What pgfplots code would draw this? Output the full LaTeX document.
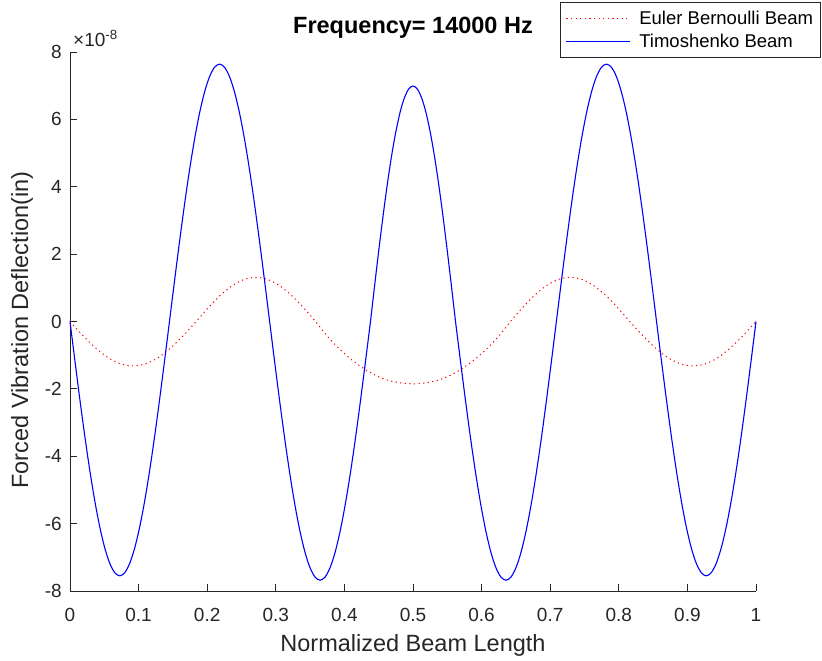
\documentclass[border=0pt]{standalone}
\usepackage{pgfplots}
\pgfplotsset{compat=1.18}
\usepackage{fontspec}
\setmainfont{Liberation Sans}
\definecolor{axgray}{rgb}{0.15,0.15,0.15}
\begin{document}
\begin{tikzpicture}
\useasboundingbox (0,0) rectangle (822pt,661pt);
\begin{axis}[
  at={(70pt,70pt)}, anchor=south west,
  scale only axis, width=686pt, height=539pt,
  xmin=0, xmax=1, ymin=-8, ymax=8,
  axis x line*=bottom, axis y line*=left,
  axis line style={axgray, line width=0.8pt},
  tick style={axgray, line width=0.8pt},
  tick align=inside, major tick length=7pt,
  xtick={0,0.1,...,1}, ytick={-8,-6,...,8},
  xticklabels={0,0.1,0.2,0.3,0.4,0.5,0.6,0.7,0.8,0.9,1},
  /pgf/number format/assume math mode=true,
  ticklabel style={font=\fontsize{19}{22}\selectfont, text=axgray, inner sep=0pt},
  xticklabel style={anchor=base, yshift=-30.5pt},
  yticklabel style={anchor=east, xshift=-8pt},
  xlabel={Normalized Beam Length},
  ylabel={Forced Vibration Deflection(in)},
  label style={font=\fontsize{23.5}{26}\selectfont, text=axgray},
  xlabel style={at={(axis description cs:0.5,-0.113)}, anchor=base},
  ylabel style={at={(axis description cs:-0.07,0.484)}, anchor=center},
  title={\textbf{Frequency= 14000 Hz}},
  title style={at={(axis description cs:0.5,1.0236)}, anchor=base, font=\fontsize{23.5}{26}\selectfont},
  legend style={at={(axis description cs:1.0948,1.093)}, anchor=north east,
    font=\fontsize{18.5}{21}\selectfont, draw=axgray, line width=0.8pt,
    row sep=3pt, inner xsep=5pt, inner ysep=6pt, nodes={inner sep=2.5pt},
    /tikz/every odd column/.append style={column sep=6pt}},
  legend cell align=left,
  legend image code/.code={\draw[#1] (0pt,0pt) -- (64pt,0pt);},
  clip=false,
]
\addplot[red, line width=1pt, dash pattern=on 1.2pt off 3.4pt, smooth] coordinates {
(0,0) (0.0184,-0.408) (0.0368,-0.776) (0.0552,-1.068) (0.0736,-1.255) (0.092,-1.32) (0.1104,-1.255) (0.1288,-1.068) (0.1472,-0.776) (0.1656,-0.408) (0.184,0)
(0.2014,0.405) (0.2188,0.770) (0.2362,1.060) (0.2536,1.246) (0.271,1.31) (0.2884,1.246) (0.3058,1.060) (0.3232,0.770) (0.3406,0.405) (0.358,0)
(0.3722,-0.37) (0.3864,-0.685) (0.4006,-0.962) (0.4148,-1.203) (0.429,-1.406) (0.4432,-1.573) (0.4574,-1.702) (0.4716,-1.785) (0.4858,-1.832) (0.5,-1.85)
(0.5142,-1.832) (0.5284,-1.785) (0.5426,-1.702) (0.5568,-1.573) (0.571,-1.406) (0.5852,-1.203) (0.5994,-0.962) (0.6136,-0.685) (0.6278,-0.37) (0.642,0)
(0.6594,0.405) (0.6768,0.770) (0.6942,1.060) (0.7116,1.246) (0.729,1.31) (0.7464,1.246) (0.7638,1.060) (0.7812,0.770) (0.7986,0.405) (0.816,0)
(0.8344,-0.408) (0.8528,-0.776) (0.8712,-1.068) (0.8896,-1.255) (0.908,-1.32) (0.9264,-1.255) (0.9448,-1.068) (0.9632,-0.776) (0.9816,-0.408) (1,0)
};
\addlegendentry{Euler Bernoulli Beam}
\addplot[blue, line width=1.1pt, smooth] coordinates {
(0,0) (0.00725,-1.181) (0.0145,-2.333) (0.02175,-3.428) (0.029,-4.438) (0.03625,-5.339) (0.0435,-6.108) (0.05075,-6.727) (0.058,-7.181) (0.06525,-7.457) (0.0725,-7.55) (0.07975,-7.457) (0.087,-7.181) (0.09425,-6.727) (0.1015,-6.108) (0.10875,-5.339) (0.116,-4.438) (0.12325,-3.428) (0.1305,-2.333) (0.13775,-1.181) (0.145,0)
(0.1523,1.195) (0.1596,2.361) (0.1669,3.469) (0.1742,4.491) (0.1815,5.402) (0.1888,6.181) (0.1961,6.807) (0.2034,7.266) (0.2107,7.546) (0.218,7.64) (0.2253,7.546) (0.2326,7.266) (0.2399,6.807) (0.2472,6.181) (0.2545,5.402) (0.2618,4.491) (0.2691,3.469) (0.2764,2.361) (0.2837,1.195) (0.291,0)
(0.29835,-1.201) (0.3057,-2.373) (0.31305,-3.487) (0.3204,-4.514) (0.32775,-5.431) (0.3351,-6.213) (0.34245,-6.843) (0.3498,-7.304) (0.35715,-7.585) (0.3645,-7.68) (0.37185,-7.585) (0.3792,-7.304) (0.38655,-6.843) (0.3939,-6.213) (0.40125,-5.431) (0.4086,-4.514) (0.41595,-3.487) (0.4233,-2.373) (0.43065,-1.201) (0.438,0)
(0.4442,1.093) (0.4504,2.160) (0.4566,3.173) (0.4628,4.109) (0.469,4.943) (0.4752,5.655) (0.4814,6.228) (0.4876,6.648) (0.4938,6.904) (0.5,6.99) (0.5062,6.904) (0.5124,6.648) (0.5186,6.228) (0.5248,5.655) (0.531,4.943) (0.5372,4.109) (0.5434,3.173) (0.5496,2.160) (0.5558,1.093) (0.562,0)
(0.56935,-1.201) (0.5767,-2.373) (0.58405,-3.487) (0.5914,-4.514) (0.59875,-5.431) (0.6061,-6.213) (0.61345,-6.843) (0.6208,-7.304) (0.62815,-7.585) (0.6355,-7.68) (0.64285,-7.585) (0.6502,-7.304) (0.65755,-6.843) (0.6649,-6.213) (0.67225,-5.431) (0.6796,-4.514) (0.68695,-3.487) (0.6943,-2.373) (0.70165,-1.201) (0.709,0)
(0.7163,1.195) (0.7236,2.361) (0.7309,3.469) (0.7382,4.491) (0.7455,5.402) (0.7528,6.181) (0.7601,6.807) (0.7674,7.266) (0.7747,7.546) (0.782,7.64) (0.7893,7.546) (0.7966,7.266) (0.8039,6.807) (0.8112,6.181) (0.8185,5.402) (0.8258,4.491) (0.8331,3.469) (0.8404,2.361) (0.8477,1.195) (0.855,0)
(0.86225,-1.181) (0.8695,-2.333) (0.87675,-3.428) (0.884,-4.438) (0.89125,-5.339) (0.8985,-6.108) (0.90575,-6.727) (0.913,-7.181) (0.92025,-7.457) (0.9275,-7.55) (0.93475,-7.457) (0.942,-7.181) (0.94925,-6.727) (0.9565,-6.108) (0.96375,-5.339) (0.971,-4.438) (0.97825,-3.428) (0.9855,-2.333) (0.99275,-1.181) (1,0)
};
\addlegendentry{Timoshenko Beam}
\node[anchor=base west, inner sep=0pt, text=axgray, font=\fontsize{19}{22}\selectfont] at (rel axis cs:0,1) [xshift=3pt, yshift=6pt] {×10\textsuperscript{-8}};
\end{axis}
\end{tikzpicture}
\end{document}
